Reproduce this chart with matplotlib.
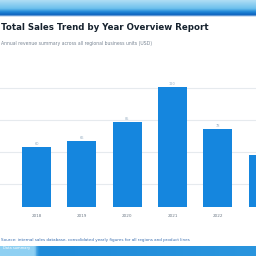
import numpy as np
import matplotlib.pyplot as plt
from matplotlib.colors import LinearSegmentedColormap

# chart data
categories = ["2018", "2019", "2020", "2021", "2022", "2023"]
values = [60, 66, 85, 120, 78, 52]
value_labels = ["60", "66", "85", "120", "78", "52"]

title = "Total Sales Trend by Year Overview Report"
subtitle = "Annual revenue summary across all regional business units (USD)"
footer = "Source: internal sales database, consolidated yearly figures for all regions and product lines"

bar_color = "#1586de"

fig = plt.figure(figsize=(2.56, 2.56), dpi=100)
fig.patch.set_facecolor("white")

# top gradient band
band = fig.add_axes([0, 1 - 17 / 256, 1, 17 / 256])
grad = np.linspace(0, 1, 60).reshape(-1, 1)
cm_top = LinearSegmentedColormap.from_list(
    "top", [(0, "#ffffff"), (0.12, "#0d62bd"), (0.3, "#1f86d8"), (0.5, "#6cc0ec"), (1, "#b0def5")])
band.imshow(grad, aspect="auto", cmap=cm_top, origin="lower", extent=[0, 1, 0, 1])
band.axis("off")

# bottom band
bot = fig.add_axes([0, 0, 1, 10 / 256])
cm_bot = LinearSegmentedColormap.from_list(
    "bot", [(0, "#8fd0f2"), (0.13, "#8fd0f2"), (0.15, "#1e8ad8"), (1, "#2a95de")])
bot.imshow(np.linspace(0, 1, 200).reshape(1, -1), aspect="auto", cmap=cm_bot, extent=[0, 1, 0, 1])
bot.axis("off")
bot.text(0.01, 0.75, "Data summary", color="white", fontsize=2.6, va="center", transform=bot.transAxes)

# main axes
ax = fig.add_axes([0, (256 - 207) / 256, 1, 132 / 256])
x = np.arange(len(categories))
ax.bar(x, values, width=0.64, color=bar_color, zorder=3)
xmin, xmax = -0.806, 4.845
for xi, v, lab in zip(x, values, value_labels):
    if xi + 0.3 < xmax:
        ax.text(xi, v + 1, lab, ha="center", va="bottom", fontsize=2.5, color="#9ab0c4", zorder=4)
ax.set_xlim(xmin, xmax)
ax.set_ylim(0, 132)
ax.set_yticks([23, 55, 87, 119])
ax.yaxis.grid(True, color="#e6eaee", linewidth=0.8, zorder=0)
shown = [i for i in x if i + 0.3 < xmax]
ax.set_xticks(shown)
ax.set_xticklabels([categories[i] for i in shown], fontsize=3, color="#6f7b88")
ax.tick_params(length=0, labelleft=False, pad=5)
for s in ax.spines.values():
    s.set_visible(False)

fig.text(0.005, 1 - 28 / 256, title, fontsize=6.2, fontweight="heavy", color="#16222e", va="center")
fig.text(0.005, 1 - 44 / 256, subtitle, fontsize=3.3, color="#7a8694", va="center")
fig.text(0.005, 1 - 240 / 256, footer, fontsize=3.0, color="#3a6fb0", va="center")

fig.savefig("out.png", dpi=100)
